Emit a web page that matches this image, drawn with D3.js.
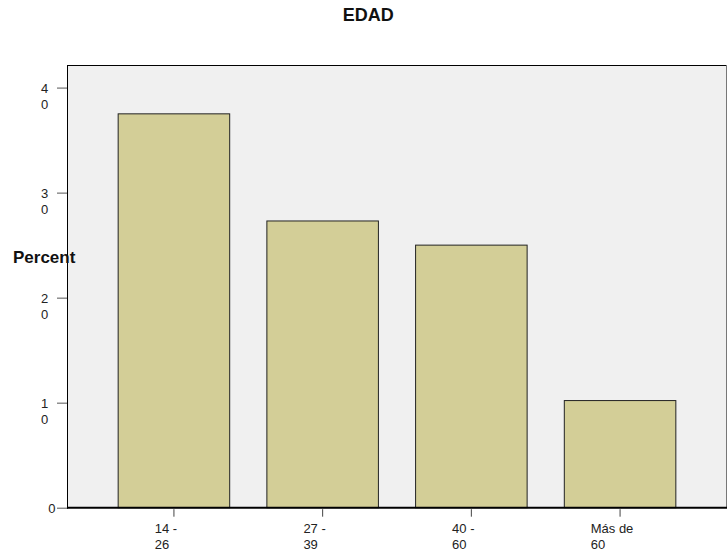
<!DOCTYPE html>
<html>
<head>
<meta charset="utf-8">
<script src="https://cdn.jsdelivr.net/npm/d3@7/dist/d3.min.js"></script>
<style>
  html, body { margin: 0; padding: 0; background: #fff; }
  svg { display: block; font-family: "Liberation Sans", Arial, sans-serif; }
</style>
</head>
<body>
<svg id="chart" width="728" height="557"></svg>
<script>
const title = "EDAD";
const yTitle = "Percent";
const categories = ["14 - 26", "27 - 39", "40 - 60", "Más de 60"];
const percents = [37.5, 27.3, 25.0, 10.2];
const yTickValues = [0, 10, 20, 30, 40];
const yTickLabels = ["0", "10", "20", "30", "40"];

const svg = d3.select("#chart");
const plot = { left: 67, right: 727, top: 65, bottom: 507.7 };

const x = d3.scaleBand()
  .domain(categories)
  .range([plot.left, plot.right])
  .paddingInner(0.25)
  .paddingOuter(0.344);

const y = d3.scaleLinear()
  .domain([0, 42.15])
  .range([plot.bottom, plot.top]);

// plot background
svg.append("rect")
  .attr("x", plot.left).attr("y", plot.top)
  .attr("width", plot.right - plot.left).attr("height", plot.bottom - plot.top)
  .attr("fill", "#f0f0f0");

// bars
svg.append("g").selectAll("rect")
  .data(categories.map((c, i) => ({ c, v: percents[i] })))
  .join("rect")
  .attr("x", d => x(d.c))
  .attr("y", d => y(d.v))
  .attr("width", x.bandwidth())
  .attr("height", d => y(0) - y(d.v))
  .attr("fill", "#d3ce97")
  .attr("stroke", "#222")
  .attr("stroke-width", 1);

// frame
svg.append("line").attr("x1", plot.left).attr("x2", plot.right)
  .attr("y1", plot.top + 0.5).attr("y2", plot.top + 0.5).attr("stroke", "#000");
svg.append("line").attr("x1", plot.right - 0.5).attr("x2", plot.right - 0.5)
  .attr("y1", plot.top).attr("y2", plot.bottom).attr("stroke", "#777");

// y axis
const yAxis = svg.append("g").attr("transform", `translate(${plot.left},0)`)
  .call(d3.axisLeft(y).tickValues(yTickValues).tickSize(10).tickFormat(() => ""));
yAxis.select(".domain").remove();
yAxis.selectAll(".tick line").attr("stroke", "#555");
svg.append("line").attr("x1", plot.left + 0.5).attr("x2", plot.left + 0.5)
  .attr("y1", plot.top).attr("y2", plot.bottom + 1).attr("stroke", "#000");

// y tick labels: box sized by full text, right-aligned before tick; wrapped per char, lines left-aligned
yTickValues.forEach((v, i) => {
  const label = yTickLabels[i];
  const t = svg.append("text").attr("font-size", 13).attr("fill", "#222")
    .attr("y", y(v) + 5);
  t.text(label);
  const w = t.node().getComputedTextLength();
  const left = plot.left - 11.5 - w;
  t.text(null);
  const lines = label.length > 1 ? label.split("") : [label];
  lines.forEach((ln, k) => {
    t.append("tspan").attr("x", left).attr("dy", k === 0 ? 0 : 16.5).text(ln);
  });
});

// x axis
const xAxis = svg.append("g").attr("transform", `translate(0,${plot.bottom})`)
  .call(d3.axisBottom(x).tickSize(9).tickSizeOuter(0).tickFormat(() => ""));
xAxis.select(".domain").remove();
xAxis.selectAll(".tick line").attr("stroke", "#444").attr("y1", 1.5);
svg.append("line").attr("x1", plot.left).attr("x2", plot.right)
  .attr("y1", plot.bottom).attr("y2", plot.bottom).attr("stroke", "#000").attr("stroke-width", 2);

// x tick labels: box centered on tick by full width, wrapped at last space, lines left-aligned
categories.forEach(c => {
  const cx = x(c) + x.bandwidth() / 2;
  const t = svg.append("text").attr("font-size", 13).attr("fill", "#222")
    .attr("y", 533.3);
  t.text(c);
  const w = t.node().getComputedTextLength();
  const left = cx - w / 2 + 1;
  t.text(null);
  const idx = c.lastIndexOf(" ");
  const lines = [c.slice(0, idx), c.slice(idx + 1)];
  lines.forEach((ln, k) => {
    t.append("tspan").attr("x", left).attr("dy", k === 0 ? 0 : 16).text(ln);
  });
});

// titles
svg.append("text").attr("x", 368.3).attr("y", 20.7)
  .attr("text-anchor", "middle").attr("font-size", 18).attr("font-weight", "bold")
  .attr("fill", "#111").text(title);

svg.append("text").attr("x", 13).attr("y", 262.7)
  .attr("font-size", 17).attr("font-weight", "bold").attr("fill", "#111")
  .text(yTitle);
</script>
</body>
</html>
